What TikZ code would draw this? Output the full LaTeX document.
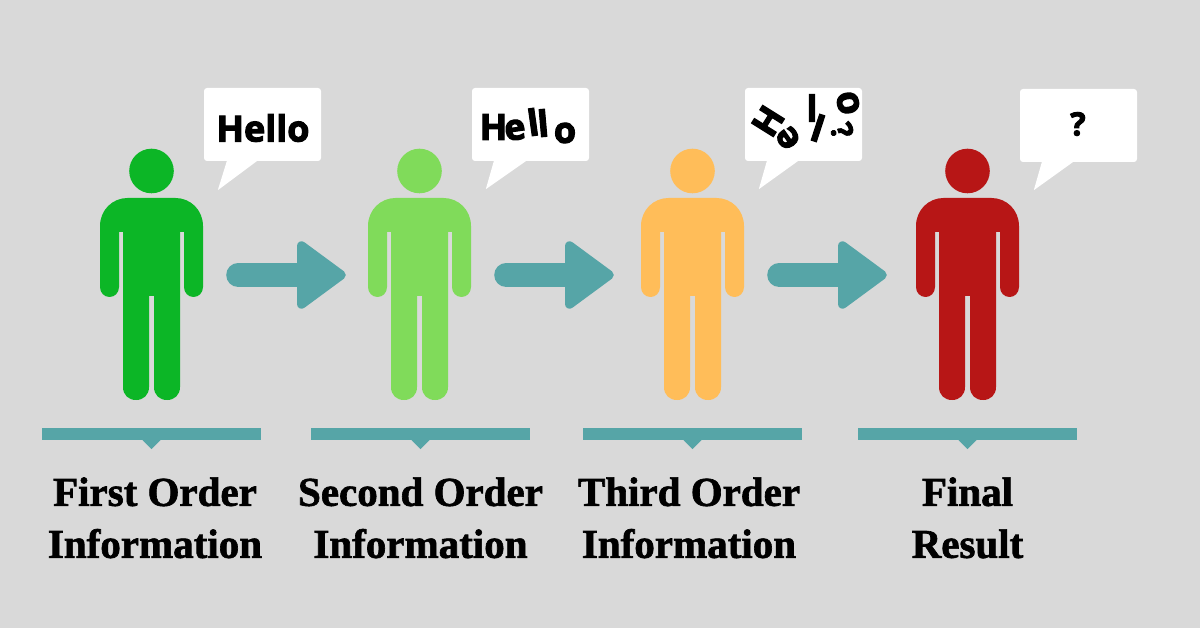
\documentclass[tikz,border=0pt]{standalone}
\usepackage{fontspec}
\setmainfont{Liberation Serif}
\newfontfamily\bubblefont[FakeBold=3]{Open Sans Bold}
\newfontfamily\captionfont[FakeBold=1.6]{Liberation Serif Bold}
\usetikzlibrary{arrows.meta, positioning}

\definecolor{bgGray}{HTML}{D9D9D9}
\definecolor{tealMain}{HTML}{56A5A7}
\definecolor{greenA}{HTML}{0CB626}
\definecolor{greenB}{HTML}{80DB5A}
\definecolor{orangeC}{HTML}{FFBD59}
\definecolor{redD}{HTML}{B71616}

% head and body, drawn round a person node
\newcommand{\drawperson}[2]{
  \begin{scope}[shift={(#1.center)}]
    \fill[#2] (0,-128) circle (22.3pt);
    \fill[#2] (-51.5,-73) .. controls (-51.5,-89) and (-39,-101) .. (-24,-101) -- (24,-101)
      .. controls (39,-101) and (51.5,-89) .. (51.5,-73) -- (51.5,-12)
      .. controls (51.5,-6) and (47,-2) .. (42,-2) .. controls (37,-2) and (32.5,-6) .. (32.5,-12)
      -- (32.5,-67) -- (28.5,-67) -- (28.5,88)
      .. controls (28.5,96) and (23,101) .. (15.5,101) .. controls (8,101) and (2.5,96) .. (2.5,88)
      -- (2.5,-3) -- (-2.5,-3) -- (-2.5,88)
      .. controls (-2.5,96) and (-8,101) .. (-15.5,101) .. controls (-23,101) and (-28.5,96) .. (-28.5,88)
      -- (-28.5,-67) -- (-32.5,-67) -- (-32.5,-12)
      .. controls (-32.5,-6) and (-37,-2) .. (-42,-2) .. controls (-47,-2) and (-51.5,-6) .. (-51.5,-12)
      -- cycle;
  \end{scope}
}

\begin{document}
\begin{tikzpicture}[
  x=1pt, y=-1pt,
  personbox/.style={minimum width=103pt, minimum height=202pt, inner sep=0pt},
  bubble/.style={fill=white, rounded corners=3pt, minimum width=117pt, minimum height=73pt, inner sep=0pt},
  word/.style={font=\bubblefont\fontsize{36}{36}\selectfont, inner sep=0pt},
  letter/.style={font=\bubblefont\fontsize{36}{36}\selectfont, inner sep=0pt},
  barbox/.style={fill=tealMain, minimum width=219pt, minimum height=12pt, inner sep=0pt},
  caption/.style={font=\captionfont\fontsize{41}{52}\selectfont, align=center, inner sep=0pt},
  arrow/.style={-{Triangle[length=52pt, width=74pt, line width=9pt, round]}, line width=24pt, line cap=round, draw=tealMain, fill=tealMain, shorten <=35pt},
  node distance=37pt
]
\fill[bgGray] (0,0) rectangle (1200,628);
\useasboundingbox (0,0) rectangle (1200,628);

% people
\node[personbox] (p1) at (151.5,299) {};
\node[personbox] (p2) at (419.5,299) {};
\node[personbox] (p3) at (692.5,299) {};
\node[personbox] (p4) at (967.5,299) {};
\drawperson{p1}{greenA}
\drawperson{p2}{greenB}
\drawperson{p3}{orangeC}
\drawperson{p4}{redD}

% arrows
\draw[arrow, shorten >=22pt] ([yshift=24pt]p1.east) -- ([yshift=24pt]p2.west);
\draw[arrow, shorten >=27pt] ([yshift=24pt]p2.east) -- ([yshift=24pt]p3.west);
\draw[arrow, shorten >=29pt] ([yshift=24pt]p3.east) -- ([yshift=24pt]p4.west);

% speech bubbles
\node[bubble] (b1) at (262.5,124.5) {};
\node[bubble] (b2) at (530.5,124.5) {};
\node[bubble] (b3) at (803.5,124.5) {};
\node[bubble] (b4) at (1078.5,125.5) {};
\fill[white] (b1.south west) ++(23,0) -- ++(-9,29) -- ++(39,-29) -- cycle;
\fill[white] (b2.south west) ++(22,0) -- ++(-8,28) -- ++(40,-28) -- cycle;
\fill[white] (b3.south west) ++(22,0) -- ++(-8,28) -- ++(39,-28) -- cycle;
\fill[white] (b4.south west) ++(22,0) -- ++(-8,28) -- ++(39,-28) -- cycle;

\node[word] (w1) at (263,128) {Hello};

\node[letter] (h2) at (493.5,127) {H};
\node[letter] (e2) at (515,130) [rotate=8] {e};
\node[letter] (l2a) at (533,122) [rotate=8] {l};
\node[letter] (l2b) at (543,123) [rotate=5] {l};
\node[letter] (o2) at (565,133) {o};

\node[letter] (h3) at (768,121) [rotate=58] {H};
\node[letter] (e3) at (788,138) [rotate=125] {e};
\node[letter] (l3a) at (812,108) {l};
\node[letter] (l3b) at (818,128) [rotate=-18] {l};
\node[letter, font=\bubblefont\fontsize{30}{30}\selectfont] (q3) at (842,131) [rotate=-70] {?};
\node[letter, font=\bubblefont\fontsize{38}{38}\selectfont] (o3) at (848,103) [rotate=100] {o};

\node[letter, font=\bubblefont\fontsize{32}{32}\selectfont] (q4) at (1078,124) {?};

% bars with ticks and captions
\node[barbox] (bar1) at (151.5,434) {};
\node[barbox] (bar2) at (420.5,434) {};
\node[barbox] (bar3) at (692.5,434) {};
\node[barbox] (bar4) at (967.5,434) {};
\fill[tealMain] (bar1.south) ++(-9,0) -- ++(9,9) -- ++(9,-9) -- cycle;
\fill[tealMain] (bar2.south) ++(-9,0) -- ++(9,9) -- ++(9,-9) -- cycle;
\fill[tealMain] (bar3.south) ++(-9,0) -- ++(9,9) -- ++(9,-9) -- cycle;
\fill[tealMain] (bar4.south) ++(-9,0) -- ++(9,9) -- ++(9,-9) -- cycle;

\node[caption, below=of bar1, xshift=3.5pt] (c1) {First Order\\Information};
\node[caption, below=of bar2] (c2) {Second Order\\Information};
\node[caption, below=of bar3, xshift=-3.5pt] (c3) {Third Order\\Information};
\node[caption, below=of bar4] (c4) {Final\\Result};
\end{tikzpicture}
\end{document}
